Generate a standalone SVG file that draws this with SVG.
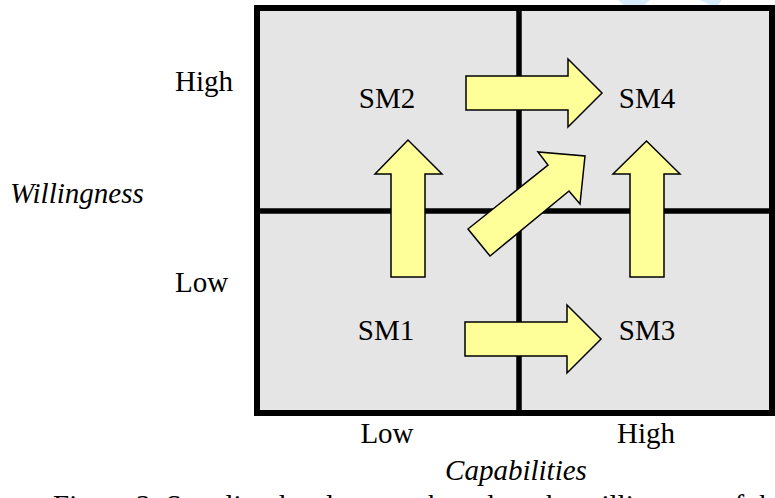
<svg xmlns="http://www.w3.org/2000/svg" width="775" height="498" viewBox="0 0 775 498">
<style>
.lbl{font-family:"Liberation Serif","Times New Roman",serif;font-size:29px;fill:#000}
.it{font-style:italic}
.cell{fill:#e5e5e5;stroke:none}
.grid{fill:none;stroke:#000;stroke-width:6}
.div{stroke:#000;stroke-width:5.5}
.arr{fill:#ffff99;stroke:#000;stroke-width:1.5;stroke-linejoin:miter}
</style>
<rect x="0" y="0" width="775" height="498" fill="#fff"/>
<g id="watermark" fill="#d6ecfb">
<polygon points="618,0 650,0 640,9 628,9"/>
<polygon points="700,0 722,0 716,8"/>
</g>
<g id="matrix">
<rect class="cell" x="257" y="8" width="515" height="405"/>
<line class="div" x1="519" y1="8" x2="519" y2="413"/>
<line class="div" x1="257" y1="211" x2="772" y2="211"/>
<rect class="grid" x="257" y="8" width="515" height="405"/>
</g>
<g id="SM1"><text class="lbl" x="386" y="340" text-anchor="middle">SM1</text></g>
<g id="SM2"><text class="lbl" x="387" y="108" text-anchor="middle">SM2</text></g>
<g id="SM3"><text class="lbl" x="647" y="340" text-anchor="middle">SM3</text></g>
<g id="SM4"><text class="lbl" x="647" y="108" text-anchor="middle">SM4</text></g>
<g id="connectors">
<polygon class="arr" points="466,76 568,76 568,59 602,93 568,127 568,110 466,110"/>
<polygon class="arr" points="465,322 567,322 567,305 601,339 567,373 567,356 465,356"/>
<polygon class="arr" points="391,277 391,174 375,174 408,140 442,174 425,174 425,277"/>
<polygon class="arr" points="630,277 630,174 613,174 646.5,141 680,174 664,174 664,277"/>
<polygon class="arr" points="490,256 468,229 548,165 538,152 585,156 580,204 569,191"/>
</g>
<g id="axis-labels">
<text class="lbl" x="175" y="91">High</text>
<text class="lbl" x="175" y="292">Low</text>
<text class="lbl it" x="10" y="203">Willingness</text>
<text class="lbl" x="387" y="443" text-anchor="middle">Low</text>
<text class="lbl" x="646" y="443" text-anchor="middle">High</text>
<text class="lbl it" x="516" y="480" text-anchor="middle">Capabilities</text>
<text class="lbl" x="53" y="515">Figure 3: Supplier development based on the willingness of the supplier</text>
</g>
</svg>
